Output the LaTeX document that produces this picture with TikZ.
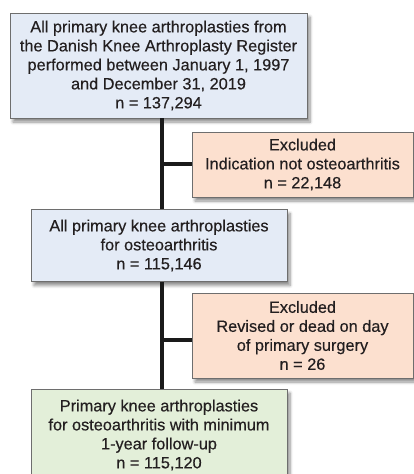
\documentclass[tikz,border=0pt]{standalone}
\usepackage{fontspec}
\setmainfont{Liberation Sans}
\newfontfamily\boxfont{Liberation Sans}[FakeBold=0.35]
\usetikzlibrary{shadows.blur}
\definecolor{bluebox}{HTML}{E4EBF6}
\definecolor{orangebox}{HTML}{FCE0CF}
\definecolor{greenbox}{HTML}{E3EFD9}
\definecolor{edgegray}{HTML}{6E6E6E}
\definecolor{txt}{HTML}{231F20}
\definecolor{linecol}{HTML}{1A1A1A}
\tikzset{
  flowbox/.style={draw=edgegray, line width=0.8pt, align=center, inner sep=0pt,
    text=txt, font=\boxfont\fontsize{16.3}{19}\selectfont,
    blur shadow={shadow xshift=3pt, shadow yshift=-4pt, shadow blur steps=6, shadow blur radius=3pt, shadow opacity=45}},
  trunkline/.style={draw=linecol, line width=3.6pt}
}
\begin{document}
\begin{tikzpicture}[x=1pt,y=-1pt]
\useasboundingbox (0,0) rectangle (414,474);
\coordinate (t) at (162,0);
\coordinate (br2) at (192,164);
\coordinate (br4) at (192,340);
\node[flowbox, fill=bluebox, minimum width=297pt, minimum height=105pt] (b1) at (158.5,65.5)
  {All primary knee arthroplasties from\\the Danish Knee Arthroplasty Register\\performed between January 1, 1997\\and December 31, 2019\\n = 137,294};
\node[flowbox, fill=bluebox, minimum width=256pt, minimum height=72pt] (b3) at (159,245.5)
  {All primary knee arthroplasties\\for osteoarthritis\\n = 115,146};
\node[flowbox, fill=greenbox, minimum width=256pt, minimum height=92pt] (b5) at (159,435)
  {Primary knee arthroplasties\\for osteoarthritis with minimum\\1-year follow-up\\n = 115,120};
\draw[trunkline] (b1.south -| t) -- (b3.north -| t);
\draw[trunkline] (b3.south -| t) -- (b5.north -| t);
\draw[trunkline] (t |- br2) -- (br2);
\draw[trunkline] (t |- br4) -- (br4);
\node[flowbox, fill=orangebox, minimum width=221pt, minimum height=65pt] (b2) at (302.5,164.5)
  {Excluded\\Indication not osteoarthritis\\n = 22,148};
\node[flowbox, fill=orangebox, minimum width=221pt, minimum height=85pt] (b4) at (302.5,335.5)
  {Excluded\\Revised or dead on day\\of primary surgery\\n = 26};
\end{tikzpicture}
\end{document}
